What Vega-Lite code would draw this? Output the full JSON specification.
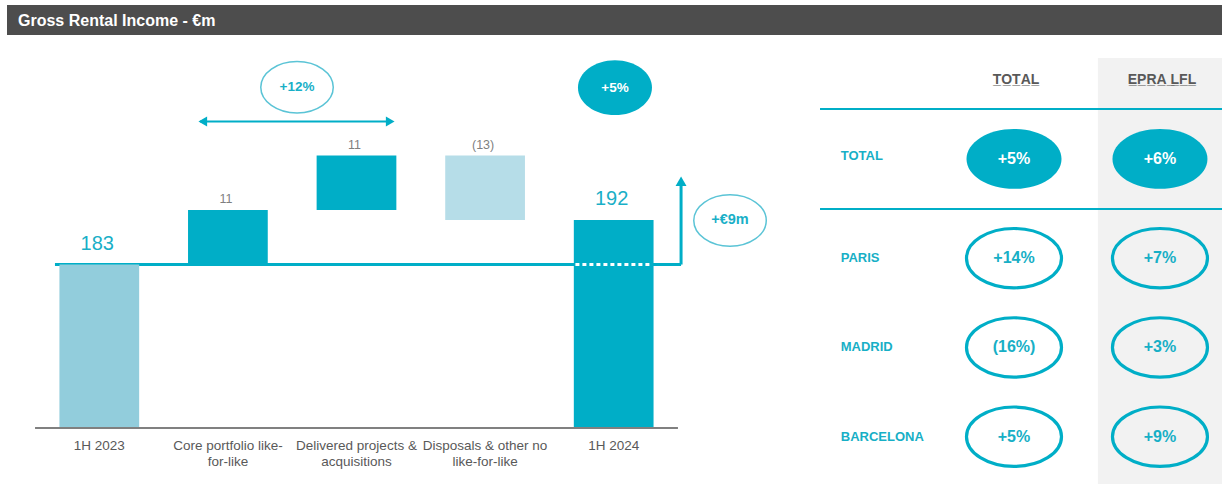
{
  "$schema": "https://vega.github.io/schema/vega-lite/v6.json",
  "padding": {"left": 7, "top": 5, "right": 4, "bottom": 0},
  "background": "white",
  "config": {"view": {"stroke": null}, "font": "Liberation Sans"},
  "spacing": 23,
  "vconcat": [
    {
      "width": 1215,
      "height": 30,
      "view": {"fill": "#4D4D4D", "stroke": null},
      "data": {"values": [{"title": "Gross Rental Income - €m"}]},
      "mark": {"type": "text", "align": "left", "baseline": "middle", "dx": 11, "dy": 1, "fontSize": 16, "fontWeight": "bold", "color": "#FFFFFF"},
      "encoding": {
        "text": {"field": "title"},
        "x": {"datum": 0, "type": "quantitative", "scale": {"domain": [0, 1]}, "axis": null},
        "y": {"datum": 0.5, "type": "quantitative", "scale": {"domain": [0, 1]}, "axis": null}
      }
    },
    {
      "spacing": 36,
      "hconcat": [
        {
          "width": 671,
          "height": 370,
          "data": {"values": [
            {"cat": "1H 2023", "start": 150, "end": 183, "kind": "base", "label": "183"},
            {"cat": "Core portfolio like-for-like", "start": 183, "end": 194, "kind": "increase", "label": "11"},
            {"cat": "Delivered projects & acquisitions", "start": 194, "end": 205, "kind": "increase", "label": "11"},
            {"cat": "Disposals & other no like-for-like", "start": 205, "end": 192, "kind": "decrease", "label": "(13)"},
            {"cat": "1H 2024", "start": 150, "end": 192, "kind": "total", "label": "192"}
          ]},
          "layer": [
            {
              "data": {"values": [{}]},
              "mark": {"type": "rule", "color": "#00AEC7", "strokeWidth": 3},
              "encoding": {
                "x": {"datum": "1H 2023", "type": "nominal", "bandPosition": -0.056},
                "x2": {"datum": "1H 2024", "bandPosition": 1.345},
                "y": {"datum": 183, "type": "quantitative"}
              }
            },
            {
              "mark": {"type": "bar"},
              "encoding": {
                "x": {
                  "field": "cat", "type": "nominal", "sort": null,
                  "scale": {"type": "band", "domain": ["1H 2023", "Core portfolio like-for-like", "Delivered projects & acquisitions", "Disposals & other no like-for-like", "1H 2024"], "paddingInner": 0.38, "paddingOuter": 0.2989, "align": 0.682},
                  "axis": {
                    "title": null, "ticks": false, "tickSize": 0, "domainOpacity": 0,
                    "labelColor": "#595959", "labelFontSize": 13.5, "labelPadding": 10, "labelLineHeight": 16.5,
                    "labelAngle": 0, "labelAlign": "center", "labelBaseline": "top",
                    "labelExpr": "datum.value == 'Core portfolio like-for-like' ? ['Core portfolio like-', 'for-like'] : datum.value == 'Delivered projects & acquisitions' ? ['Delivered projects &', 'acquisitions'] : datum.value == 'Disposals & other no like-for-like' ? ['Disposals & other no', 'like-for-like'] : datum.value"
                  }
                },
                "y": {
                  "field": "start", "type": "quantitative",
                  "scale": {"domain": [150, 224.7], "nice": false, "zero": false},
                  "axis": {"title": null, "domain": false, "ticks": false, "labels": false, "grid": false, "minExtent": 0, "maxExtent": 0}
                },
                "y2": {"field": "end"},
                "color": {"field": "kind", "type": "nominal", "scale": {"domain": ["base", "increase", "decrease", "total"], "range": ["#92CDDC", "#00AEC7", "#B6DDE8", "#00AEC7"]}, "legend": null}
              }
            },
            {
              "data": {"values": [{}]},
              "mark": {"type": "rule", "color": "#808080", "strokeWidth": 2},
              "encoding": {
                "x": {"datum": "1H 2023", "type": "nominal", "bandPosition": -0.306},
                "x2": {"datum": "1H 2024", "bandPosition": 1.306},
                "y": {"datum": 150, "type": "quantitative"}
              }
            },
            {
              "data": {"values": [{}]},
              "mark": {"type": "rule", "color": "#FFFFFF", "strokeWidth": 3, "strokeDash": [4, 3]},
              "encoding": {
                "x": {"datum": "1H 2024", "type": "nominal", "bandPosition": 0.02},
                "x2": {"datum": "1H 2024", "bandPosition": 0.98},
                "y": {"datum": 183, "type": "quantitative"}
              }
            },
            {
              "data": {"values": [{}]},
              "mark": {"type": "rule", "color": "#00AEC7", "strokeWidth": 3},
              "encoding": {
                "x": {"datum": "1H 2024", "type": "nominal", "bandPosition": 1.345},
                "y": {"datum": 183, "type": "quantitative"},
                "y2": {"datum": 199}
              }
            },
            {
              "data": {"values": [{}]},
              "mark": {"type": "point", "shape": "triangle-up", "filled": true, "opacity": 1, "size": 120, "color": "#00AEC7"},
              "encoding": {
                "x": {"datum": "1H 2024", "type": "nominal", "bandPosition": 1.345},
                "y": {"datum": 199.8, "type": "quantitative"}
              }
            },
            {
              "data": {"values": [{}]},
              "mark": {"type": "rule", "color": "#00AEC7", "strokeWidth": 2},
              "encoding": {
                "x": {"datum": "Core portfolio like-for-like", "type": "nominal", "bandPosition": 0.15},
                "x2": {"datum": "Delivered projects & acquisitions", "bandPosition": 0.945},
                "y": {"datum": 211.9, "type": "quantitative"}
              }
            },
            {
              "data": {"values": [{}]},
              "mark": {"type": "point", "shape": "triangle-left", "filled": true, "opacity": 1, "size": 100, "color": "#00AEC7"},
              "encoding": {
                "x": {"datum": "Core portfolio like-for-like", "type": "nominal", "bandPosition": 0.185},
                "y": {"datum": 211.9, "type": "quantitative"}
              }
            },
            {
              "data": {"values": [{}]},
              "mark": {"type": "point", "shape": "triangle-right", "filled": true, "opacity": 1, "size": 100, "color": "#00AEC7"},
              "encoding": {
                "x": {"datum": "Delivered projects & acquisitions", "type": "nominal", "bandPosition": 0.923},
                "y": {"datum": 211.9, "type": "quantitative"}
              }
            },
            {
              "data": {"values": [{"note": "+12%"}]},
              "layer": [
                {
                  "mark": {"type": "point", "shape": "M-1,0A1,0.71,0,1,1,1,0A1,0.71,0,1,1,-1,0Z", "filled": false, "opacity": 1, "size": 5256, "color": "#5BC4D6", "strokeWidth": 1.5}
                },
                {
                  "mark": {"type": "text", "fontSize": 13.5, "fontWeight": "bold", "color": "#19AFC7", "baseline": "middle"},
                  "encoding": {"text": {"field": "note"}}
                }
              ],
              "encoding": {
                "x": {"datum": "Core portfolio like-for-like", "type": "nominal", "bandPosition": 1.367},
                "y": {"datum": 218.8, "type": "quantitative"}
              }
            },
            {
              "data": {"values": [{"note": "+5%"}]},
              "layer": [
                {
                  "mark": {"type": "point", "shape": "M-1,0A1,0.74,0,1,1,1,0A1,0.74,0,1,1,-1,0Z", "filled": true, "opacity": 1, "size": 5476, "color": "#00AEC7"}
                },
                {
                  "mark": {"type": "text", "fontSize": 13.5, "fontWeight": "bold", "color": "#FFFFFF", "baseline": "middle"},
                  "encoding": {"text": {"field": "note"}}
                }
              ],
              "encoding": {
                "x": {"datum": "1H 2024", "type": "nominal", "bandPosition": 0.516},
                "y": {"datum": 218.7, "type": "quantitative"}
              }
            },
            {
              "data": {"values": [{"note": "+€9m"}]},
              "layer": [
                {
                  "mark": {"type": "point", "shape": "M-1,0A1,0.71,0,1,1,1,0A1,0.71,0,1,1,-1,0Z", "filled": false, "opacity": 1, "size": 5256, "color": "#5BC4D6", "strokeWidth": 1.5}
                },
                {
                  "mark": {"type": "text", "fontSize": 14.5, "fontWeight": "bold", "color": "#19AFC7", "baseline": "middle"},
                  "encoding": {"text": {"field": "note"}}
                }
              ],
              "encoding": {
                "x": {"datum": "1H 2024", "type": "nominal", "bandPosition": 1.959},
                "y": {"datum": 191.9, "type": "quantitative"}
              }
            },
            {
              "transform": [{"filter": "datum.kind == 'base' || datum.kind == 'total'"}],
              "mark": {"type": "text", "fontSize": 20, "color": "#19AFC7", "baseline": "alphabetic", "dy": -15, "dx": -2},
              "encoding": {
                "x": {"field": "cat", "type": "nominal"},
                "y": {"field": "end", "type": "quantitative"},
                "text": {"field": "label"}
              }
            },
            {
              "transform": [{"filter": "datum.kind == 'increase'"}],
              "mark": {"type": "text", "fontSize": 12.5, "color": "#7F7F7F", "baseline": "alphabetic", "dy": -7, "dx": -2},
              "encoding": {
                "x": {"field": "cat", "type": "nominal"},
                "y": {"field": "end", "type": "quantitative"},
                "text": {"field": "label"}
              }
            },
            {
              "transform": [{"filter": "datum.kind == 'decrease'"}],
              "mark": {"type": "text", "fontSize": 12.5, "color": "#7F7F7F", "baseline": "alphabetic", "dy": -7, "dx": -2},
              "encoding": {
                "x": {"field": "cat", "type": "nominal"},
                "y": {"field": "start", "type": "quantitative"},
                "text": {"field": "label"}
              }
            }
          ]
        },
        {
          "width": 416,
          "height": 426,
          "data": {"values": [
            {"row": "TOTAL", "col": "TOTAL", "value": "+5%"},
            {"row": "TOTAL", "col": "EPRA LFL", "value": "+6%"},
            {"row": "PARIS", "col": "TOTAL", "value": "+14%"},
            {"row": "PARIS", "col": "EPRA LFL", "value": "+7%"},
            {"row": "MADRID", "col": "TOTAL", "value": "(16%)"},
            {"row": "MADRID", "col": "EPRA LFL", "value": "+3%"},
            {"row": "BARCELONA", "col": "TOTAL", "value": "+5%"},
            {"row": "BARCELONA", "col": "EPRA LFL", "value": "+9%"}
          ]},
          "layer": [
            {
              "data": {"values": [{}]},
              "mark": {"type": "rect", "color": "#F2F2F2"},
              "encoding": {
                "x": {"datum": "EPRA LFL", "type": "nominal", "scale": {"type": "band", "domain": ["label", "TOTAL", "EPRA LFL"], "paddingInner": 0.15, "paddingOuter": 0}, "axis": null}
              }
            },
            {
              "data": {"values": [{"col": "TOTAL", "head": "T\u0332O\u0332T\u0332A\u0332L\u0332"}, {"col": "EPRA LFL", "head": "E\u0332P\u0332R\u0332A\u0332 \u0332L\u0332F\u0332L\u0332"}]},
              "mark": {"type": "text", "fontSize": 14, "fontWeight": "bold", "color": "#595959", "baseline": "middle", "dx": 2},
              "encoding": {
                "x": {"field": "col", "type": "nominal"},
                "y": {"datum": "header", "type": "nominal", "scale": {"type": "point", "domain": ["header", "TOTAL", "PARIS", "MADRID", "BARCELONA"], "padding": 0.3863, "align": 0.314}, "axis": null},
                "text": {"field": "head"}
              }
            },
            {
              "data": {"values": [{}]},
              "mark": {"type": "rule", "color": "#00AEC7", "strokeWidth": 2, "yOffset": 29.3},
              "encoding": {
                "x": {"datum": "label", "type": "nominal", "bandPosition": 0.113},
                "x2": {"datum": "EPRA LFL", "bandPosition": 1},
                "y": {"datum": "header", "type": "nominal"}
              }
            },
            {
              "data": {"values": [{}]},
              "mark": {"type": "rule", "color": "#00AEC7", "strokeWidth": 2, "yOffset": 40.1},
              "encoding": {
                "x": {"datum": "label", "type": "nominal", "bandPosition": 0.113},
                "x2": {"datum": "EPRA LFL", "bandPosition": 1},
                "y": {"datum": "TOTAL", "type": "nominal"}
              }
            },
            {
              "transform": [{"filter": "datum.col == 'TOTAL' && datum.row != 'TOTAL'"}],
              "mark": {"type": "text", "fontSize": 13, "fontWeight": "bold", "color": "#17AFC6", "align": "left", "baseline": "middle"},
              "encoding": {
                "x": {"datum": "label", "type": "nominal", "bandPosition": 0.28},
                "y": {"field": "row", "type": "nominal"},
                "text": {"field": "row"}
              }
            },
            {
              "transform": [{"filter": "datum.col == 'TOTAL' && datum.row == 'TOTAL'"}],
              "mark": {"type": "text", "fontSize": 13, "fontWeight": "bold", "color": "#17AFC6", "align": "left", "baseline": "middle", "yOffset": -13},
              "encoding": {
                "x": {"datum": "label", "type": "nominal", "bandPosition": 0.28},
                "y": {"field": "row", "type": "nominal"},
                "text": {"field": "row"}
              }
            },
            {
              "transform": [{"filter": "datum.row != 'TOTAL'"}],
              "mark": {"type": "point", "shape": "M-1,0A1,0.625,0,1,1,1,0A1,0.625,0,1,1,-1,0Z", "filled": false, "opacity": 1, "size": 9025, "color": "#00AEC7", "strokeWidth": 3.2},
              "encoding": {
                "x": {"field": "col", "type": "nominal"},
                "y": {"field": "row", "type": "nominal"}
              }
            },
            {
              "transform": [{"filter": "datum.row != 'TOTAL'"}],
              "mark": {"type": "text", "fontSize": 16, "fontWeight": "bold", "color": "#17AFC6", "baseline": "middle"},
              "encoding": {
                "x": {"field": "col", "type": "nominal"},
                "y": {"field": "row", "type": "nominal"},
                "text": {"field": "value"}
              }
            },
            {
              "transform": [{"filter": "datum.row == 'TOTAL'"}],
              "mark": {"type": "point", "shape": "M-1,0A1,0.63,0,1,1,1,0A1,0.63,0,1,1,-1,0Z", "filled": true, "opacity": 1, "size": 9025, "color": "#00AEC7", "yOffset": -10},
              "encoding": {
                "x": {"field": "col", "type": "nominal"},
                "y": {"field": "row", "type": "nominal"}
              }
            },
            {
              "transform": [{"filter": "datum.row == 'TOTAL'"}],
              "mark": {"type": "text", "fontSize": 16, "fontWeight": "bold", "color": "#FFFFFF", "baseline": "middle", "yOffset": -10},
              "encoding": {
                "x": {"field": "col", "type": "nominal"},
                "y": {"field": "row", "type": "nominal"},
                "text": {"field": "value"}
              }
            }
          ]
        }
      ]
    }
  ]
}
